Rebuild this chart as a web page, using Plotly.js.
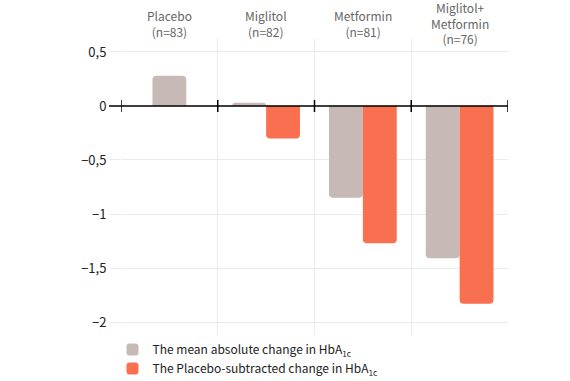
<!DOCTYPE html>
<html>
<head>
<meta charset="utf-8">
<script src="https://cdn.plot.ly/plotly-3.0.1.min.js"></script>
<style>html,body{margin:0;padding:0;background:#fff}#chart{width:570px;height:381px}</style>
</head>
<body>
<div id="chart"></div>
<script>
const categories = ["Placebo", "Miglitol", "Metformin", "Miglitol+Metformin"];
const categoryLabels = ["Placebo<br>(n=83)", "Miglitol<br>(n=82)", "Metformin<br>(n=81)", "Miglitol+<br>Metformin<br>(n=76)"];
const meanAbsolute = [0.28, 0.03, -0.85, -1.41];
const placeboSubtracted = [null, -0.30, -1.27, -1.83];
const seriesNames = ["The mean absolute change in HbA<sub>1c</sub>", "The Placebo-subtracted change in HbA<sub>1c</sub>"];
const yTicks = [0.5, 0, -0.5, -1, -1.5, -2];

const FONT = '"Noto Sans CJK KR", "Noto Sans", sans-serif';
const W = 0.35;

const traces = [
  {
    type: 'bar', x: categories, y: meanAbsolute, name: seriesNames[0],
    width: W,
    offset: placeboSubtracted.map(v => v === null ? -W / 2 : -W),
    marker: {color: '#c7b9b5', cornerradius: 4},
    hoverinfo: 'none'
  },
  {
    type: 'bar', x: categories, y: placeboSubtracted, name: seriesNames[1],
    width: W, offset: 0,
    marker: {color: '#f87050', cornerradius: 4},
    hoverinfo: 'none'
  }
];

const shapes = [{
  type: 'line', xref: 'paper', yref: 'y', x0: -0.031, x1: 1, y0: 0, y1: 0,
  line: {color: '#000', width: 1.5}, layer: 'above'
}];
for (let i = 0; i <= categories.length; i++) {
  shapes.push({
    type: 'line', xref: 'x', yref: 'y', x0: i - 0.5, x1: i - 0.5, y0: -0.056, y1: 0.056,
    line: {color: '#000', width: 1.5}, layer: 'above'
  });
}

const annotations = categories.map((c, i) => ({
  x: c, xref: 'x', y: 1, yref: 'paper', yanchor: 'middle', yshift: 16,
  text: categoryLabels[i], showarrow: false,
  font: {family: FONT, size: 12, color: '#666'}
}));

const layout = {
  width: 570, height: 381,
  margin: {l: 121, r: 62, t: 39, b: 46, autoexpand: false},
  paper_bgcolor: '#fff', plot_bgcolor: '#fff',
  separators: ',.',
  barmode: 'overlay',
  showlegend: true,
  font: {family: FONT, size: 12, color: '#222'},
  xaxis: {
    type: 'category', range: [-0.5, 3.5], side: 'top',
    showticklabels: false, showgrid: true, gridcolor: '#ebebeb',
    tickson: 'boundaries', ticks: '', zeroline: false, showline: false, fixedrange: true
  },
  yaxis: {
    range: [-2.12, 0.62], tickvals: yTicks,
    ticks: 'outside', ticklen: 11, tickcolor: '#ebebeb', tickwidth: 1,
    gridcolor: '#ebebeb', zeroline: false, showline: false,
    tickfont: {family: FONT, size: 13, color: '#222'}, fixedrange: true
  },
  legend: {
    x: -0.022, xanchor: 'left', y: 0.0, yanchor: 'top',
    orientation: 'v', bgcolor: 'rgba(0,0,0,0)',
    font: {family: FONT, size: 12, color: '#222'},
    tracegroupgap: 0, itemclick: false
  },
  shapes: shapes,
  annotations: annotations
};

Plotly.newPlot('chart', traces, layout, {displayModeBar: false, staticPlot: true});
</script>
</body>
</html>
